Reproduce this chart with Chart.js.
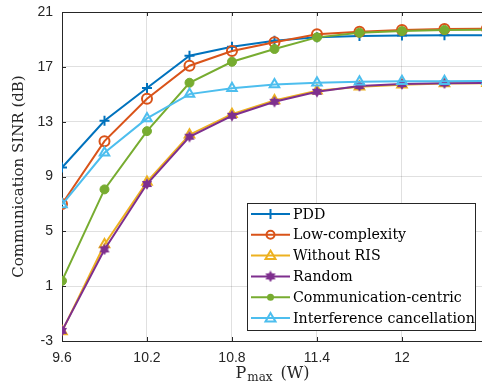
<!DOCTYPE html>
<html><head><meta charset="utf-8">
<script src="https://cdn.jsdelivr.net/npm/chart.js@4/dist/chart.umd.min.js"></script>
<style>html,body{margin:0;padding:0;background:#fff;overflow:hidden}#wrap{width:482px;height:390px;position:relative}</style>
</head><body><div id="wrap"><canvas id="c" width="482" height="390"></canvas></div>
<script>
// ---- data ----
const pmax = [9.6, 9.9, 10.2, 10.5, 10.8, 11.1, 11.4, 11.7, 12.0, 12.3, 12.6];
const pdd = [9.66, 13.07, 15.45, 17.81, 18.47, 18.9, 19.15, 19.25, 19.28, 19.3, 19.3];
const lowComplexity = [7.0, 11.58, 14.67, 17.08, 18.15, 18.79, 19.37, 19.56, 19.69, 19.76, 19.78];
const withoutRIS = [-2.3, 4.04, 8.6, 12.05, 13.55, 14.55, 15.25, 15.55, 15.7, 15.78, 15.8];
const random = [-2.26, 3.68, 8.45, 11.9, 13.43, 14.45, 15.18, 15.6, 15.74, 15.8, 15.82];
const commCentric = [1.39, 8.06, 12.31, 15.84, 17.37, 18.3, 19.15, 19.49, 19.61, 19.69, 19.7];
const interfCancel = [6.95, 10.73, 13.24, 15.01, 15.43, 15.72, 15.84, 15.91, 15.94, 15.95, 15.96];
const seriesNames = ['PDD', 'Low-complexity', 'Without RIS', 'Random', 'Communication-centric', 'Interference cancellation'];
const xTicks = [9.6, 10.2, 10.8, 11.4, 12];
const yTicks = [-3, 1, 5, 9, 13, 17, 21];
const xTitleMain = 'P';
const xTitleSub = 'max';
const xTitleUnit = '(W)';
const yTitle = 'Communication SINR (dB)';

// ---- styles ----
const colors = ['#0072BD', '#D95319', '#EDB120', '#7E2F8E', '#77AC30', '#4DBEEE'];
const markers = ['cross', 'circleOpen', 'triOpen', 'hex', 'dot', 'triOpen'];
const axisColor = '#262626';

function makeHex(color) {
  const c = document.createElement('canvas');
  c.width = 12; c.height = 12;
  const g = c.getContext('2d');
  g.fillStyle = color;
  g.beginPath();
  for (let k = 0; k < 12; k++) {
    const r = (k % 2 === 0) ? 5.8 : 3.4;
    const a = -Math.PI / 2 + k * Math.PI / 6;
    const px = 6 + r * Math.cos(a), py = 6 + r * Math.sin(a);
    if (k === 0) g.moveTo(px, py); else g.lineTo(px, py);
  }
  g.closePath(); g.fill();
  return c;
}
const hexImg = makeHex(colors[3]);

function pointOpts(m, col) {
  switch (m) {
    case 'cross': return {pointStyle: 'cross', pointRadius: 5, pointBorderWidth: 2, pointBackgroundColor: col, pointBorderColor: col};
    case 'circleOpen': return {pointStyle: 'circle', pointRadius: 5, pointBorderWidth: 2, pointBackgroundColor: 'rgba(0,0,0,0)', pointBorderColor: col};
    case 'triOpen': return {pointStyle: 'triangle', pointRadius: 5.5, pointBorderWidth: 2, pointBackgroundColor: 'rgba(0,0,0,0)', pointBorderColor: col};
    case 'hex': return {pointStyle: hexImg, pointRadius: 6, pointBorderWidth: 0, pointBackgroundColor: col, pointBorderColor: col};
    default: return {pointStyle: 'circle', pointRadius: 4.5, pointBorderWidth: 1, pointBackgroundColor: col, pointBorderColor: col};
  }
}

const allSeries = [pdd, lowComplexity, withoutRIS, random, commCentric, interfCancel];
const datasets = allSeries.map((vals, i) => Object.assign({
  label: seriesNames[i],
  data: pmax.map((x, j) => ({x: x, y: vals[j]})),
  borderColor: colors[i],
  borderWidth: 2,
  fill: false,
  tension: 0,
  order: 10 - i
}, pointOpts(markers[i], colors[i])));

function drawMarker(ctx, m, x, y, col) {
  ctx.save();
  ctx.strokeStyle = col; ctx.fillStyle = col; ctx.lineWidth = 2;
  if (m === 'cross') {
    ctx.beginPath(); ctx.moveTo(x - 5, y); ctx.lineTo(x + 5, y); ctx.moveTo(x, y - 5); ctx.lineTo(x, y + 5); ctx.stroke();
  } else if (m === 'circleOpen') {
    ctx.beginPath(); ctx.arc(x, y, 4, 0, Math.PI * 2); ctx.stroke();
  } else if (m === 'triOpen') {
    ctx.beginPath(); ctx.moveTo(x, y - 5); ctx.lineTo(x + 5, y + 3.5); ctx.lineTo(x - 5, y + 3.5); ctx.closePath(); ctx.stroke();
  } else if (m === 'hex') {
    ctx.drawImage(hexImg, x - 6, y - 6);
  } else {
    ctx.beginPath(); ctx.arc(x, y, 3.5, 0, Math.PI * 2); ctx.fill();
  }
  ctx.restore();
}

const decor = {
  id: 'decor',
  afterDatasetsDraw(chart) {
    const ctx = chart.ctx, a = chart.chartArea;
    const xs = chart.scales.x, ys = chart.scales.y;
    ctx.save();
    ctx.strokeStyle = axisColor; ctx.lineWidth = 1;
    ctx.beginPath(); ctx.moveTo(a.left, a.top + 0.5); ctx.lineTo(a.right, a.top + 0.5); ctx.stroke();
    ctx.beginPath();
    xTicks.forEach(v => {
      const px = Math.round(xs.getPixelForValue(v)) + 0.5;
      ctx.moveTo(px, a.bottom); ctx.lineTo(px, a.bottom - 4);
      ctx.moveTo(px, a.top); ctx.lineTo(px, a.top + 4);
    });
    yTicks.forEach(v => {
      const py = Math.round(ys.getPixelForValue(v)) + 0.5;
      ctx.moveTo(a.left, py); ctx.lineTo(a.left + 4, py);
    });
    ctx.stroke();
    ctx.restore();
  },
  afterDraw(chart) {
    const ctx = chart.ctx, a = chart.chartArea;
    ctx.save();
    ctx.fillStyle = axisColor;
    ctx.textBaseline = 'alphabetic';
    const fMain = '16px "DejaVu Serif"', fSub = '12px "DejaVu Serif"';
    const gap = 8;
    ctx.font = fMain; const wP = ctx.measureText(xTitleMain).width; const wU = ctx.measureText(xTitleUnit).width;
    ctx.font = fSub; const wS = ctx.measureText(xTitleSub).width;
    const total = wP + wS + gap + wU;
    const x0 = (a.left + a.right) / 2 - total / 2 + 0;
    const by = 378;
    ctx.font = fMain; ctx.fillText(xTitleMain, x0, by);
    ctx.font = fSub; ctx.fillText(xTitleSub, x0 + wP + 1, by + 3);
    ctx.font = fMain; ctx.fillText(xTitleUnit, x0 + wP + 1 + wS + gap, by);

    // legend
    const L = 247, T = 203, R = 476, B = 331;
    ctx.fillStyle = '#ffffff';
    ctx.fillRect(L, T, R - L, B - T);
    ctx.strokeStyle = axisColor; ctx.lineWidth = 1;
    ctx.strokeRect(L + 0.5, T + 0.5, R - L - 1, B - T - 1);
    ctx.font = '14.2px "DejaVu Serif"';
    ctx.textBaseline = 'middle';
    seriesNames.forEach((name, i) => {
      const y = 214 + i * 20.8;
      ctx.strokeStyle = colors[i]; ctx.lineWidth = 2;
      ctx.beginPath(); ctx.moveTo(251, y); ctx.lineTo(290, y); ctx.stroke();
      drawMarker(ctx, markers[i], 270.5, y, colors[i]);
      ctx.fillStyle = '#000';
      ctx.fillText(name, 293, y + 1);
    });
    ctx.restore();
  }
};

new Chart(document.getElementById('c'), {
  type: 'line',
  data: {datasets: datasets},
  options: {
    responsive: false,
    animation: false,
    devicePixelRatio: 1,
    layout: {autoPadding: false, padding: {top: 12, right: 0, left: 0, bottom: 0}},
    plugins: {legend: {display: false}, tooltip: {enabled: false}},
    scales: {
      x: {
        type: 'linear', min: 9.6, max: 12.565,
        afterBuildTicks: s => { s.ticks = xTicks.map(v => ({value: v})); },
        afterFit: s => { s.height = 49; s.paddingLeft = 0; s.paddingRight = 0; },
        ticks: {font: {family: 'Liberation Sans', size: 14}, color: axisColor, padding: 9, maxRotation: 0, autoSkip: false,
          callback: v => String(v)},
        grid: {color: 'rgba(0,0,0,0.12)', drawTicks: false},
        border: {color: axisColor, width: 1}
      },
      y: {
        type: 'linear', min: -3, max: 21,
        afterBuildTicks: s => { s.ticks = yTicks.map(v => ({value: v})); },
        afterFit: s => { s.width = 62; s.paddingTop = 0; s.paddingBottom = 0; },
        ticks: {font: {family: 'Liberation Sans', size: 14}, color: axisColor, padding: 9, autoSkip: false,
          callback: v => String(v)},
        grid: {color: 'rgba(0,0,0,0.12)', drawTicks: false},
        border: {color: axisColor, width: 1},
        title: {display: true, text: yTitle, font: {family: 'DejaVu Serif', size: 15}, color: axisColor, padding: {top: 10, bottom: 0}}
      }
    }
  },
  plugins: [decor]
});
</script>
</body></html>
